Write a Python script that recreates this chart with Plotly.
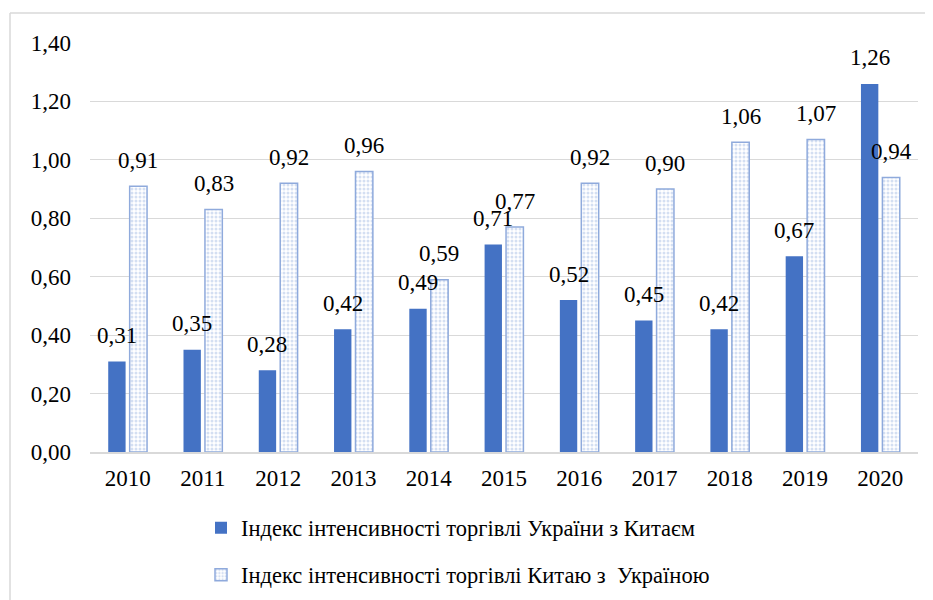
import plotly.graph_objects as go

years = ["2010", "2011", "2012", "2013", "2014", "2015", "2016", "2017", "2018", "2019", "2020"]
ua_cn = [0.31, 0.35, 0.28, 0.42, 0.49, 0.71, 0.52, 0.45, 0.42, 0.67, 1.26]
cn_ua = [0.91, 0.83, 0.92, 0.96, 0.59, 0.77, 0.92, 0.90, 1.06, 1.07, 0.94]
name_ua = "Індекс інтенсивності торгівлі України з Китаєм"
name_cn = "Індекс інтенсивності торгівлі Китаю з  Україною"

FONT = "Times New Roman, Liberation Serif, DejaVu Serif, serif"
FS = 23

fig = go.Figure()
fig.add_trace(go.Bar(
    x=years, y=ua_cn, name=name_ua,
    marker=dict(color="#4472C4", line=dict(width=0)),
    legend="legend",
))
fig.add_trace(go.Bar(
    x=years, y=cn_ua, name=name_cn,
    marker=dict(
        color="#FFFFFF",
        line=dict(color="#8FAADC", width=1.5),
        pattern=dict(shape=".", fgcolor="#A9BFE6", bgcolor="#FFFFFF", size=4, solidity=0.45),
    ),
    legend="legend2",
))

def fmt(v):
    return f"{v:.2f}".replace(".", ",")

annotations = []
for i, v in enumerate(ua_cn):
    annotations.append(dict(x=i, y=v, xref="x", yref="y", text=fmt(v), showarrow=False,
                            xshift=-10.75, yshift=26, yanchor="middle",
                            font=dict(family=FONT, size=FS, color="#000000")))
for i, v in enumerate(cn_ua):
    annotations.append(dict(x=i, y=v, xref="x", yref="y", text=fmt(v), showarrow=False,
                            xshift=10.75, yshift=26, yanchor="middle",
                            font=dict(family=FONT, size=FS, color="#000000")))

OFF = 8  # page body margin
W, H = 933, 600
L, R, T, B = 90 - OFF, W - (918 - OFF), 43 - OFF, H - (452 - OFF)
pw, ph = W - L - R, H - T - B

def px_x(p):
    return (p - OFF - L) / pw

def px_y(p):
    return (H - B - (p - OFF)) / ph

shapes = [
    dict(type="line", xref="paper", yref="paper", x0=px_x(10), x1=px_x(950), y0=px_y(13), y1=px_y(13),
         line=dict(color="#D9D9D9", width=1.5)),
    dict(type="line", xref="paper", yref="paper", x0=px_x(10), x1=px_x(10), y0=px_y(13), y1=px_y(620),
         line=dict(color="#D9D9D9", width=1.5)),
]

fig.update_layout(
    width=W, height=H,
    margin=dict(l=L, r=R, t=T, b=B, autoexpand=False),
    paper_bgcolor="#FFFFFF", plot_bgcolor="#FFFFFF",
    separators=",.",
    barmode="group", bargap=0.43, bargroupgap=0.19,
    font=dict(family=FONT, size=FS, color="#000000"),
    annotations=annotations,
    shapes=shapes,
    showlegend=True,
    legend=dict(x=px_x(201), y=px_y(528), xanchor="left", yanchor="middle",
                font=dict(family=FONT, size=22.5, color="#000000"), bgcolor="rgba(0,0,0,0)"),
    legend2=dict(x=px_x(201), y=px_y(575), xanchor="left", yanchor="middle",
                 font=dict(family=FONT, size=22.5, color="#000000"), bgcolor="rgba(0,0,0,0)"),
    xaxis=dict(type="category", range=[-0.5, 10.5], showgrid=False, showline=True, linecolor="#D9D9D9",
               linewidth=1.5, ticks="", ticklabelstandoff=5, tickfont=dict(family=FONT, size=FS)),
    yaxis=dict(range=[0, 1.4], dtick=0.2, tick0=0, tickformat=".2f", showgrid=True,
               gridcolor="#D9D9D9", gridwidth=1.2, zeroline=False, showline=False, ticks="",
               ticklabelstandoff=18, tickfont=dict(family=FONT, size=FS)),
)

fig.write_html("out.html")
